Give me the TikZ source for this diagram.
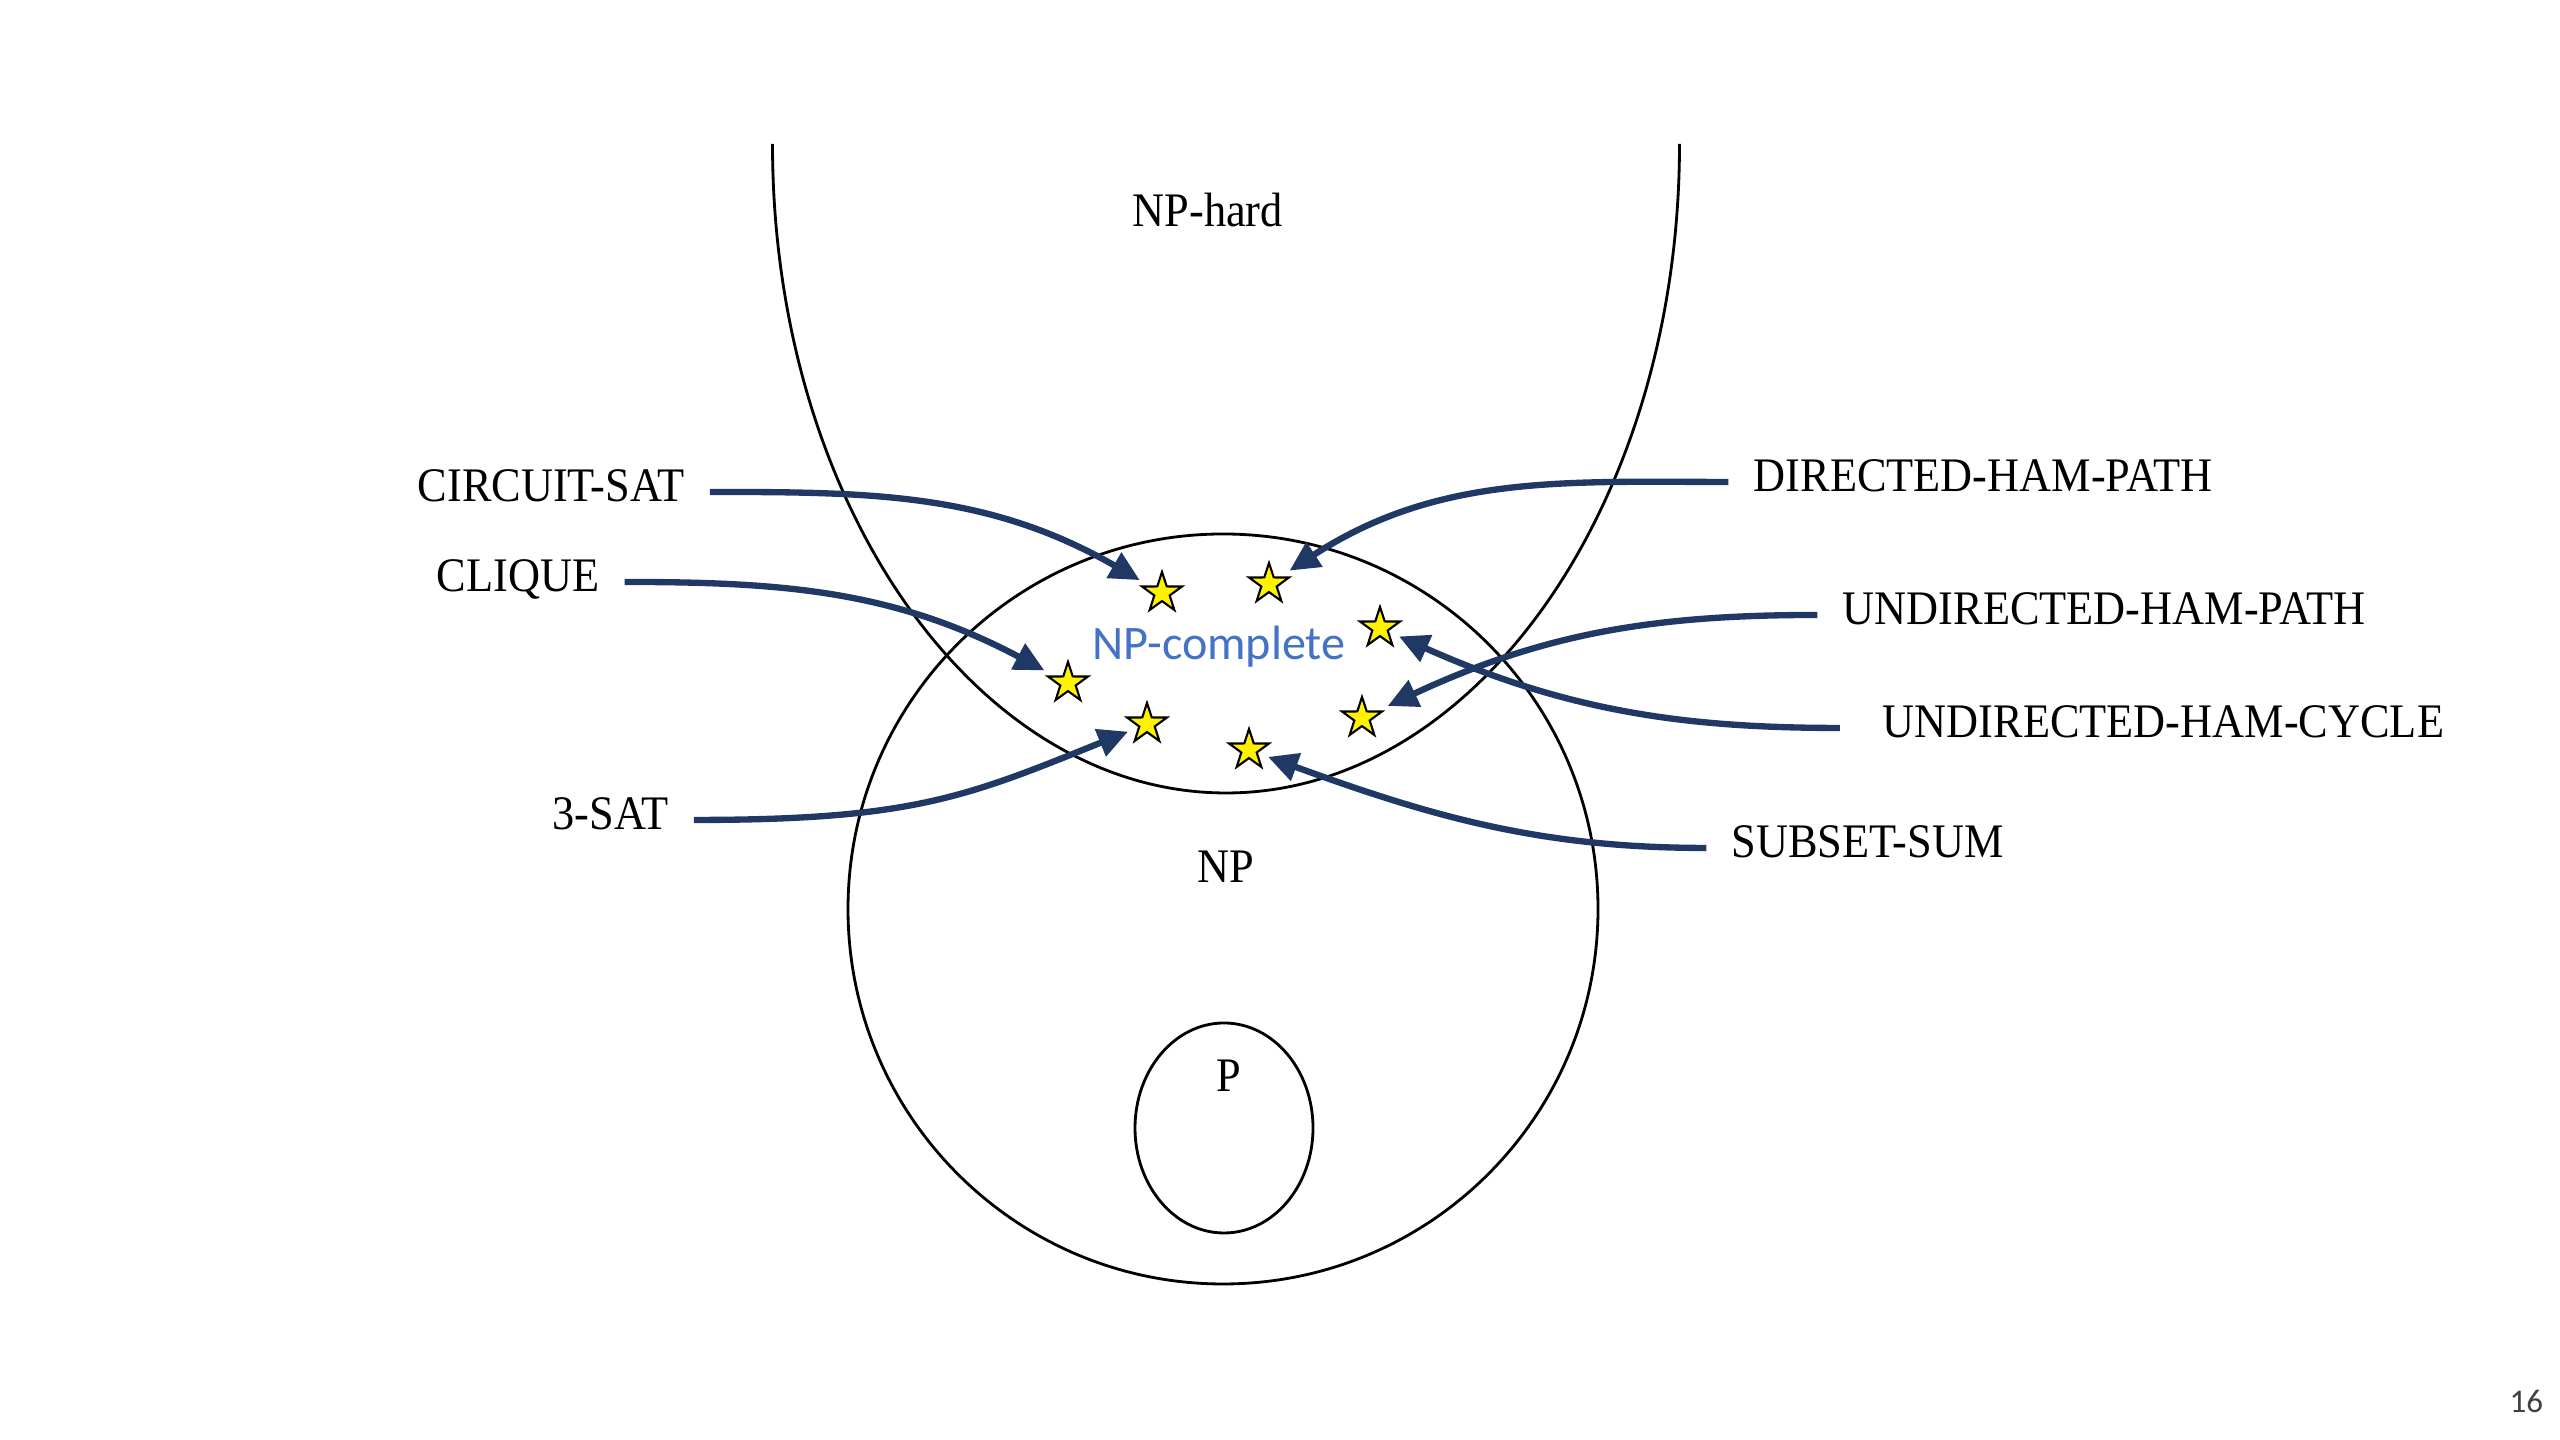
\documentclass[tikz,border=0pt]{standalone}
\usepackage{fontspec}
\setmainfont{Liberation Serif}[FakeStretch=0.92]
\newfontfamily\calibrifont{Carlito}
\usetikzlibrary{shapes.geometric,arrows.meta}
\definecolor{navy}{RGB}{32,56,100}
\definecolor{npblue}{RGB}{68,114,196}
\begin{document}
\begin{tikzpicture}[x=0.01cm, y=0.01cm,
  lbl/.style={anchor=base west, inner sep=0pt, text height=5.7pt, text depth=0pt, font=\fontsize{13.7}{16}\selectfont},
  starnode/.style={star, star points=5, star point ratio=2.6, minimum size=0.42cm, inner sep=0pt, draw=black, line width=0.6pt, fill=yellow},
  reduce/.style={navy, line width=1.8pt, -{Triangle[length=8.5pt, width=8pt]}, shorten <=7pt, shorten >=3pt}]
\useasboundingbox[fill=white] (0,0) rectangle (2560,1440);
% the classes
\draw[line width=0.8pt] (772.5,1296) arc[start angle=180, end angle=360, x radius=453.5, y radius=649];
\draw[line width=0.8pt] (1223,531) circle[radius=375];
\draw[line width=0.8pt] (1224,312) ellipse[x radius=89, y radius=105];
\node[lbl] (nphard) at (1132,1213) {NP-hard};
\node[lbl] (np) at (1197,557) {NP};
\node[lbl] (p) at (1216,348) {P};
\node[lbl, text=npblue, font=\calibrifont\fontsize{13.7}{16}\selectfont] (npc) at (1092,780) {NP-complete};
% the problems
\node[starnode] (s1) at (1162,847) {};
\node[starnode] (s2) at (1269,856) {};
\node[starnode] (s3) at (1380,812) {};
\node[starnode] (s4) at (1068,757) {};
\node[starnode] (s5) at (1147,716) {};
\node[starnode] (s6) at (1362,722) {};
\node[starnode] (s7) at (1249,690) {};
\node[lbl] (circuitsat) at (417,938) {CIRCUIT-SAT};
\node[lbl] (clique) at (436,848) {CLIQUE};
\node[lbl] (threesat) at (552,610) {3-SAT};
\node[lbl] (dirham) at (1753,948) {DIRECTED-HAM-PATH};
\node[lbl] (undham) at (1842,815) {UNDIRECTED-HAM-PATH};
\node[lbl] (undcycle) at (1882,702) {UNDIRECTED-HAM-CYCLE};
\node[lbl] (subsetsum) at (1731,582) {SUBSET-SUM};
\draw[reduce] (circuitsat) to[out=0, in=150] (s1);
\draw[reduce] (clique) to[out=0, in=152] (s4);
\draw[reduce] (threesat) to[out=0, in=202, out looseness=1.3] (s5);
\draw[reduce] (dirham) to[out=180, in=33] (s2);
\draw[reduce] (undham) to[out=180, in=25] (s6);
\draw[reduce, shorten <=12pt] (undcycle) to[out=180, in=336] (s3);
\draw[reduce] (subsetsum) to[out=180, in=340] (s7);
% slide number
\node[lbl, font=\calibrifont\fontsize{9.4}{11}\selectfont, text=black!75] (pagenum) at (2509,27) {16};
\end{tikzpicture}
\end{document}
